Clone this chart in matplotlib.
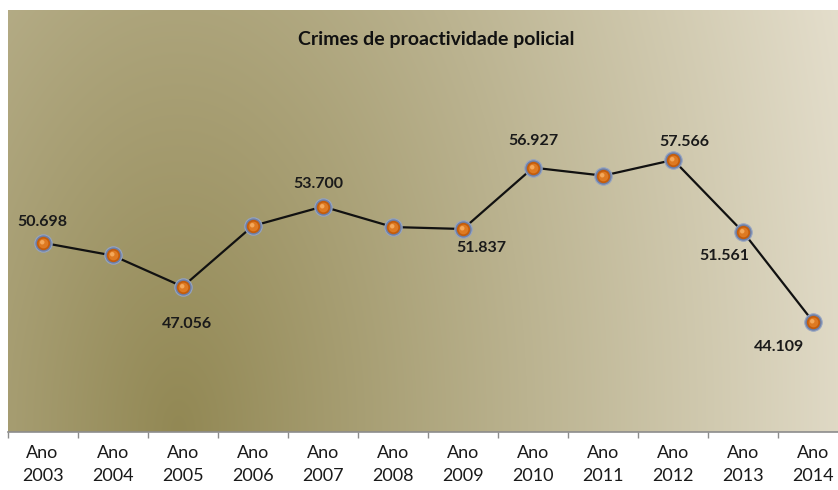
import matplotlib.pyplot as plt
import numpy as np
from matplotlib.path import Path

plt.rcParams['font.family'] = ['Lato', 'DejaVu Sans']

anos = ['2003', '2004', '2005', '2006', '2007', '2008',
        '2009', '2010', '2011', '2012', '2013', '2014']
crimes = [50.698, 49.64, 47.056, 52.09, 53.700, 52.00,
          51.837, 56.927, 56.26, 57.566, 51.561, 44.109]
# valores com rotulo visivel e deslocamento do rotulo (pontos)
rotulos = {0: (0, 15), 2: (3, -27), 4: (-3, 16), 6: (13, -14),
           7: (0, 19), 9: (8, 13), 10: (-14, -17), 11: (-25, -18)}

fig = plt.figure(figsize=(8.38, 4.90), dpi=100)
ax = fig.add_axes([7.5 / 838, 58 / 490, 841 / 838, 422 / 490])

x = np.arange(len(anos))

# fundo em degrade (escuro em baixo a esquerda, claro a direita)
gx, gy = np.meshgrid(np.linspace(0, 841, 400), np.linspace(422, 0, 200))
t = np.sqrt(((gx - 170) / 700.0) ** 2 + ((gy - 0) / 1300.0) ** 2)
t = np.clip(t, 0, 1)[..., None]
escuro = np.array([146, 136, 84]) / 255.0
claro = np.array([228, 222, 204]) / 255.0
img = escuro * (1 - t) + claro * t
ax.imshow(img, extent=[-0.5, 11.5, 35, 70], aspect='auto', zorder=0,
          interpolation='bilinear')

ax.plot(x, crimes, color='#111111', lw=1.6, zorder=2)
ax.plot(x, crimes, 'o', ms=12.5, mfc='#6d7fa6', mec='#95a4c2', mew=0.8, zorder=3)
ax.plot(x, crimes, 'o', ms=9.6, mfc='#c35c0c', mec='none', zorder=4)
ax.plot(x, crimes, 'o', ms=7.0, mfc='#de7a22', mec='none', zorder=4)
brilho = Path.circle((-0.25, 0.25), 0.45)
ax.plot(x, crimes, marker=brilho, ls='none', ms=5.0, mfc='#f4a85a',
        mec='none', zorder=5)

for i, (dx, dy) in rotulos.items():
    ax.annotate(f'{crimes[i]:.3f}', (x[i], crimes[i]), xytext=(dx, dy),
                textcoords='offset points', ha='center', va='center',
                fontsize=11.5, fontweight='bold', color='#1a1a1a', zorder=6)

ax.text(428.5 / 841, 0.929, 'Crimes de proactividade policial',
        transform=ax.transAxes, ha='center', va='center', fontsize=14,
        fontweight='bold', color='#111111')

ax.set_xlim(-0.5, 11.5)
ax.set_ylim(35, 70)
ax.set_yticks([])
ax.set_xticks(x)
ax.set_xticklabels(['Ano\n' + a for a in anos], fontsize=13,
                   color='#1a1a1a', linespacing=1.55)
ax.set_xticks(np.arange(-0.5, 12, 1), minor=True)
ax.tick_params(axis='x', which='major', length=0, pad=9)
ax.tick_params(axis='x', which='minor', length=4, color='#8c8c8c', width=1)
for s in ['top', 'left', 'right']:
    ax.spines[s].set_visible(False)
ax.spines['bottom'].set_color('#8c8c8c')
ax.spines['bottom'].set_linewidth(1.2)

plt.savefig('out.png', dpi=100)
